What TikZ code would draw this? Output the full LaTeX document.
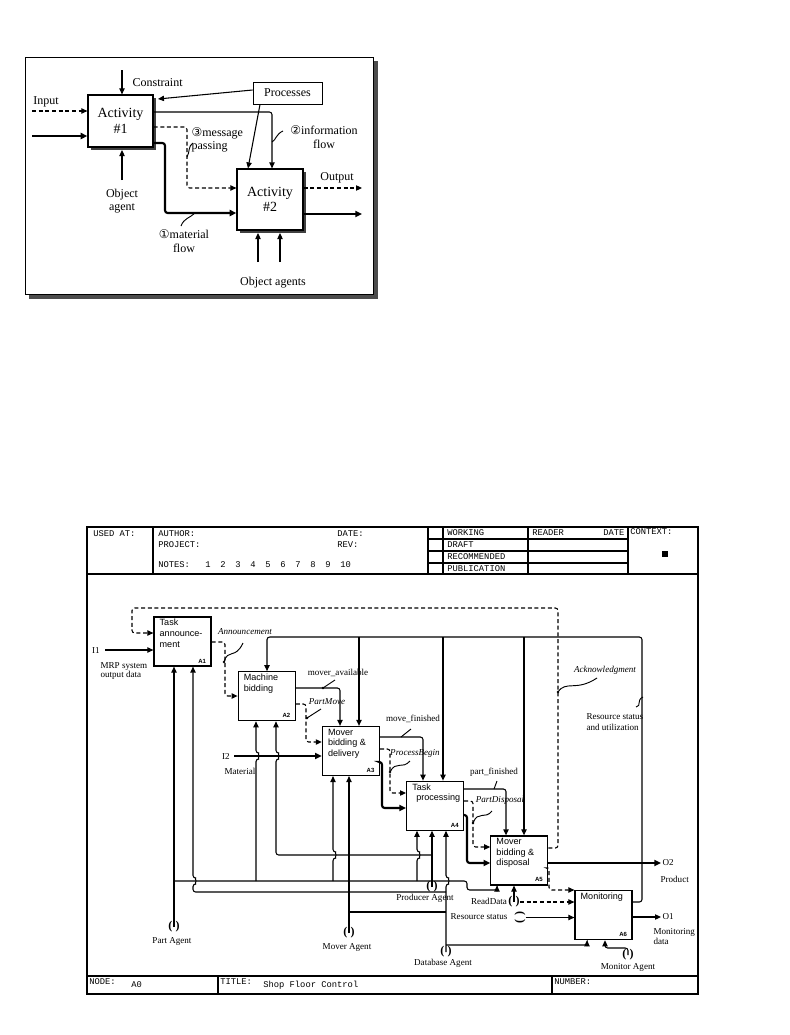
\documentclass[tikz,border=0pt]{standalone}
\usepackage{fontspec}
\setmainfont{Liberation Serif}
\setsansfont{Liberation Sans}
\setmonofont{Liberation Mono}
\newfontfamily\symfont{DejaVu Sans}
\usetikzlibrary{arrows.meta,positioning,calc,shadows}

\begin{document}
\begin{tikzpicture}[x=0.75pt,y=-0.75pt,
act/.style={draw,fill=white,line width=0.9pt,align=center,font=\fontsize{10.5}{11.5}\selectfont,drop shadow={shadow xshift=2.2pt,shadow yshift=-2.2pt,fill=black!75,opacity=1}},
blk/.style={draw,fill=white,line width=0.9pt,minimum width=42.75pt,minimum height=36.75pt,inner sep=0pt},
btxt/.style={anchor=north west,align=left,inner sep=0pt,xshift=4.5pt,yshift=-2pt,font=\sffamily\fontsize{6.8}{8}\selectfont},
bnum/.style={anchor=south east,inner sep=0pt,xshift=-4pt,yshift=2.5pt,font=\sffamily\bfseries\fontsize{4.5}{5}\selectfont},
lbl/.style={inner sep=1pt,font=\fontsize{6.8}{7.6}\selectfont},
ilbl/.style={inner sep=1pt,font=\itshape\fontsize{6.8}{7.6}\selectfont},
tlbl/.style={inner sep=1pt,font=\fontsize{9}{10}\selectfont},
hdr/.style={anchor=west,inner sep=0pt,font=\ttfamily\fontsize{6.6}{7}\selectfont},
agt/.style={inner sep=0pt,font=\bfseries\fontsize{9}{9}\selectfont},
ln/.style={line width=0.8pt,rounded corners=2pt},
ctl/.style={ln,-{Triangle[length=4.5pt,width=4pt]}},
msg/.style={ctl,dash pattern=on 3pt off 2pt},
mat/.style={ctl,line width=1.6pt,-{Triangle[length=5pt,width=4.5pt]}},
sq/.style={line width=0.7pt}
]
\useasboundingbox (0,0) rectangle (789,1035);

% overview of the notation
\fill[black!70] (29,61) rectangle (378,299);
\draw[line width=0.6pt,fill=white] (25,57) rectangle (373,294);
\node[act,minimum width=48.75pt,minimum height=39pt] (act1) at (120.5,121) {Activity\\\#1};
\node[act,minimum width=49.5pt,minimum height=45.75pt] (act2) at (270,199.5) {Activity\\\#2};
\node[draw,line width=0.7pt,minimum width=51.75pt,minimum height=16.5pt,font=\fontsize{9}{10}\selectfont] (proc) at (287.5,93) {Processes};

\node[tlbl] (inp) at (46,102) {Input};
\draw[msg] (32,111) -- (act1.west |- 0,111);
\draw[mat] (32,136) -- (act1.west |- 0,136);
\node[tlbl,anchor=west] (cons) at (131,83) {Constraint};
\draw[ctl] (122,70) -- (122,0 |- act1.north);
\draw[ctl] (proc.west |- 0,90) -- (158,99);
\draw[ctl] (260,0 |- proc.south) -- (248,0 |- act2.north);
\draw[ctl] (act1.east |- 0,112) -| (272,0 |- act2.north);
\draw[msg] (act1.east |- 0,127) -| (187,188) -- (act2.west |- 0,188);
\draw[mat] (act1.east |- 0,143) -| (165,213) -- (act2.west |- 0,213);
\draw[ctl] (122,180) -- (122,150);
\draw[msg] (act2.east |- 0,188) -- (362,188);
\draw[mat] (act2.east |- 0,214) -- (362,214);
\draw[ctl] (258,262) -- (258,233);
\draw[ctl] (280,262) -- (280,233);

\node[tlbl,align=left,anchor=north west] (msgl) at (190,126) {{\symfont\fontsize{9}{9}\selectfont ③}message\\passing};
\node[tlbl,align=center] (infl) at (324,137) {{\symfont\fontsize{9}{9}\selectfont ②}information\\flow};
\node[tlbl,align=center] (matl) at (184,241) {{\symfont\fontsize{9}{9}\selectfont ①}material\\flow};
\node[tlbl] (outl) at (337,178) {Output};
\node[tlbl,align=center] (oagl) at (122,201) {Object\\agent};
\node[tlbl] (oasl) at (273,283) {Object agents};
\draw[sq] (272,142) .. controls (276,140) and (276,134) .. (283,131);
\draw[sq] (187,157) .. controls (190,152) and (188,146) .. (193,143);
\draw[sq] (181,226) .. controls (184,218) and (190,218) .. (195,213);

% IDEF0 form
\draw[line width=1pt] (87,527) rectangle (698,994);
\draw[line width=0.8pt] (87,574) -- (698,574);
\draw[line width=0.8pt] (153,527) -- (153,574) (428,527) -- (428,574) (443,527) -- (443,574) (528,527) -- (528,574) (628,527) -- (628,574);
\draw[line width=0.8pt] (428,539) -- (628,539) (428,551) -- (628,551) (428,563) -- (628,563);
\fill (662,551) rectangle (668,557);
\draw[line width=0.8pt] (87,976) -- (698,976) (218,976) -- (218,994) (552,976) -- (552,994);

\node[hdr] (usd) at (93,534) {USED AT:};
\node[hdr] (aut) at (158,534) {AUTHOR:};
\node[hdr] (dat) at (337,534) {DATE:};
\node[hdr] (prj) at (158,545) {PROJECT:};
\node[hdr] (rev) at (337,545) {REV:};
\node[hdr] (nts) at (158,565) {NOTES:};
\foreach \n in {1,...,10} \node[hdr] (nt\n) at (190+15*\n,565) {\n};
\node[hdr] (wrk) at (447,533) {WORKING};
\node[hdr] (drf) at (447,545) {DRAFT};
\node[hdr] (rec) at (447,557) {RECOMMENDED};
\node[hdr] (pub) at (447,569) {PUBLICATION};
\node[hdr] (rdr) at (532,533) {READER};
\node[hdr] (rdt) at (603,533) {DATE};
\node[hdr] (ctx) at (630,532) {CONTEXT:};
\node[hdr] (nde) at (89,982) {NODE:};
\node[hdr] (nnum) at (131,985) {A0};
\node[hdr] (ttl) at (220,982) {TITLE:};
\node[hdr] (ttx) at (263,985) {Shop Floor Control};
\node[hdr] (nbr) at (554,982) {NUMBER:};

% activity boxes
\node[blk,label={[btxt]north west:Task\\announce-\\ment},label={[bnum]south east:A1}] (a1) at (182.5,641.5) {};
\node[blk,below right=3.4pt and 19.5pt of a1,label={[btxt]north west:Machine\\bidding},label={[bnum]south east:A2}] (a2) {};
\node[blk,below right=3.4pt and 19.5pt of a2,label={[btxt]north west:Mover\\bidding \&\\delivery},label={[bnum]south east:A3}] (a3) {};
\node[blk,below right=3.4pt and 19.5pt of a3,label={[btxt]north west:Task\\\hspace*{3pt}processing},label={[bnum]south east:A4}] (a4) {};
\node[blk,below right=3.4pt and 19.5pt of a4,label={[btxt]north west:Mover\\bidding \&\\disposal},label={[bnum]south east:A5}] (a5) {};
\node[blk,below right=3.4pt and 19.5pt of a5,label={[btxt]north west:Monitoring},label={[bnum]south east:A6}] (a6) {};

% inputs, controls and outputs
\node[lbl] (i1) at (96,650) {I1};
\node[lbl,align=left,anchor=north west,font=\fontsize{6.8}{7}\selectfont] (mrp) at (99,661) {MRP system\\output data};
\draw[ctl] ([xshift=3pt]i1.east) -- (a1.west |- i1);
\draw[msg] (a5.east |- 0,848) -- (558,848) -- (558,608) -- (132,608) -- (132,633) -- (a1.west |- 0,633);
\draw[msg] (a5.east |- 0,868) -- (549,868) -- (549,890) -- (a6.west |- 0,890);
\draw[msg] (a1.east |- 0,642) -- (225,642) -- (225,696) -- (a2.west |- 0,696);
\draw[ctl] (a6.east |- 0,902) -- (642,902) -- (642,637) -- (267,637) -- (267,0 |- a2.north);
\draw[ctl] (359,637) -- (359,0 |- a3.north);
\draw[ctl] (443,637) -- (443,0 |- a4.north);
\draw[ctl] (524,637) -- (524,0 |- a5.north);
\draw[ctl] (a2.east |- 0,688) -| (340,0 |- a3.north);
\draw[msg] (a2.east |- 0,704) -- (306,704) -- (306,742) -- (a3.west |- 0,742);
\node[lbl] (i2) at (226,756) {I2};
\node[lbl,anchor=west] (mtl) at (223,771) {Material};
\draw[mat] ([xshift=2pt]i2.east) -- (a3.west |- i2);
\draw[ctl] (a3.east |- 0,737) -| (423,0 |- a4.north);
\draw[msg] (a3.east |- 0,749) -- (390,749) -- (390,793) -- (a4.west |- 0,793);
\draw[mat] (a3.east |- 0,762) -- (382,762) -- (382,808) -- (a4.west |- 0,808);
\draw[ctl] (a4.east |- 0,789) -| (506,0 |- a5.north);
\draw[msg] (a4.east |- 0,801) -- (473,801) -- (473,847) -- (a5.west |- 0,847);
\draw[mat] (a4.east |- 0,815) -- (467,815) -- (467,863) -- (a5.west |- 0,863);
\node[lbl,anchor=west] (o2) at (661,863) {O2};
\node[lbl,anchor=west] (prd) at (659,879) {Product};
\draw[mat] (a5.east |- 0,863) -- (o2.west);
\node[lbl,anchor=west] (o1) at (661,917) {O1};
\node[lbl,anchor=north west,align=left] (mdat) at (652,927) {Monitoring\\data};
\draw[ctl] (a6.east |- 0,917) -- (o1.west);

\node[ilbl] (ann) at (245,632) {Announcement};
\node[lbl] (mav) at (338,673) {mover\_available};
\node[ilbl] (pmv) at (327,702) {PartMove};
\node[lbl] (mfn) at (413,719) {move\_finished};
\node[ilbl] (pbg) at (415,753) {ProcessBegin};
\node[lbl] (pfn) at (494,772) {part\_finished};
\node[ilbl] (pds) at (500,800) {PartDisposal};
\node[ilbl] (ack) at (605,670) {Acknowledgment};
\node[lbl,anchor=west,align=left] (rsu) at (585,722) {Resource status\\and utilization};
\fill (224,662) circle[radius=1pt] (323,688) circle[radius=1pt] (307,718) circle[radius=1pt] (390,772) circle[radius=1pt] (473,823) circle[radius=1pt] (558,692) circle[radius=1pt];
\draw[sq] (224,662) .. controls (228,648) and (235,660) .. (243,643);
\draw[sq] (323,688) -- (335,680);
\draw[sq] (307,718) -- (321,709);
\draw[sq] (401,737) -- (411,729);
\draw[sq] (390,772) .. controls (396,760) and (402,770) .. (410,761);
\draw[sq] (494,789) -- (497,781);
\draw[sq] (473,823) .. controls (478,810) and (485,820) .. (492,811);
\draw[sq] (558,692) .. controls (566,680) and (576,692) .. (597,678);
\draw[sq] (636,707) .. controls (642,706) and (636,700) .. (643,697);

% mechanisms
\node[agt] (pa) at (174,927) {(\hspace{2.5pt})};
\node[lbl] (pal) at (172,941) {Part Agent};
\draw[ctl] (pa.center) -- (174,0 |- a1.south);
\draw[ctl] (174,881) -- (467,881) -- (467,890) -- (497,890) -- (497,0 |- a5.south);
\draw[ctl] (256,881) -- (256,759) arc[start angle=-90,end angle=90,radius=2.25pt] -- (256,0 |- a2.south);
\draw[ctl] (432,855) -- (276,855) -- (276,759) arc[start angle=-90,end angle=90,radius=2.25pt] -- (276,0 |- a2.south);
\draw[ctl] (333,881) -- (333,858) arc[start angle=-90,end angle=90,radius=2.25pt] -- (333,0 |- a3.south);
\draw[ctl] (417,881) -- (417,858) arc[start angle=-90,end angle=90,radius=2.25pt] -- (417,0 |- a4.south);
\draw[ctl] (446,892) -- (193,892) -- (193,884) arc[start angle=-90,end angle=90,radius=2.25pt] -- (193,0 |- a1.south);
\node[agt] (pra) at (432,887) {(\hspace{2.5pt})};
\node[lbl] (pral) at (425,898) {Producer Agent};
\draw[ctl] (pra.center) -- (432,0 |- a4.south);
\node[agt] (ma) at (349,933) {(\hspace{2.5pt})};
\node[lbl] (mal) at (347,947) {Mover Agent};
\draw[ctl] (ma.center) -- (349,0 |- a3.south);
\draw[ln] (349,912) -- (446,912);
\node[agt] (da) at (446,952) {(\hspace{2.5pt})};
\node[lbl] (dal) at (443,963) {Database Agent};
\draw[ctl] (da.center) -- (446,884) arc[start angle=-90,end angle=90,radius=2.25pt] -- (446,0 |- a4.south);
\draw[ctl] (446,945) -- (587,945) -- (587,0 |- a6.south);
\node[agt] (moa) at (628,955) {(\hspace{2.5pt})};
\node[lbl] (moal) at (628,967) {Monitor Agent};
\draw[ctl] (moa.center) -- (628,948) -- (605,948) -- (605,0 |- a6.south);

\node[agt] (rd) at (514,902) {(\hspace{2.5pt})};
\node[lbl] (rdl) at (489,901) {ReadData};
\draw[ctl] (rd.center) -- (514,0 |- a5.south);
\draw[msg] (rd.east) -- (a6.west |- rd);
\node[agt,rotate=90] (rs) at (520,917.5) {(\hspace{2.5pt})};
\node[lbl] (rsl) at (479,917) {Resource status};
\draw[ctl] (rs.south) -- (a6.west |- rs.center);
\end{tikzpicture}
\end{document}
